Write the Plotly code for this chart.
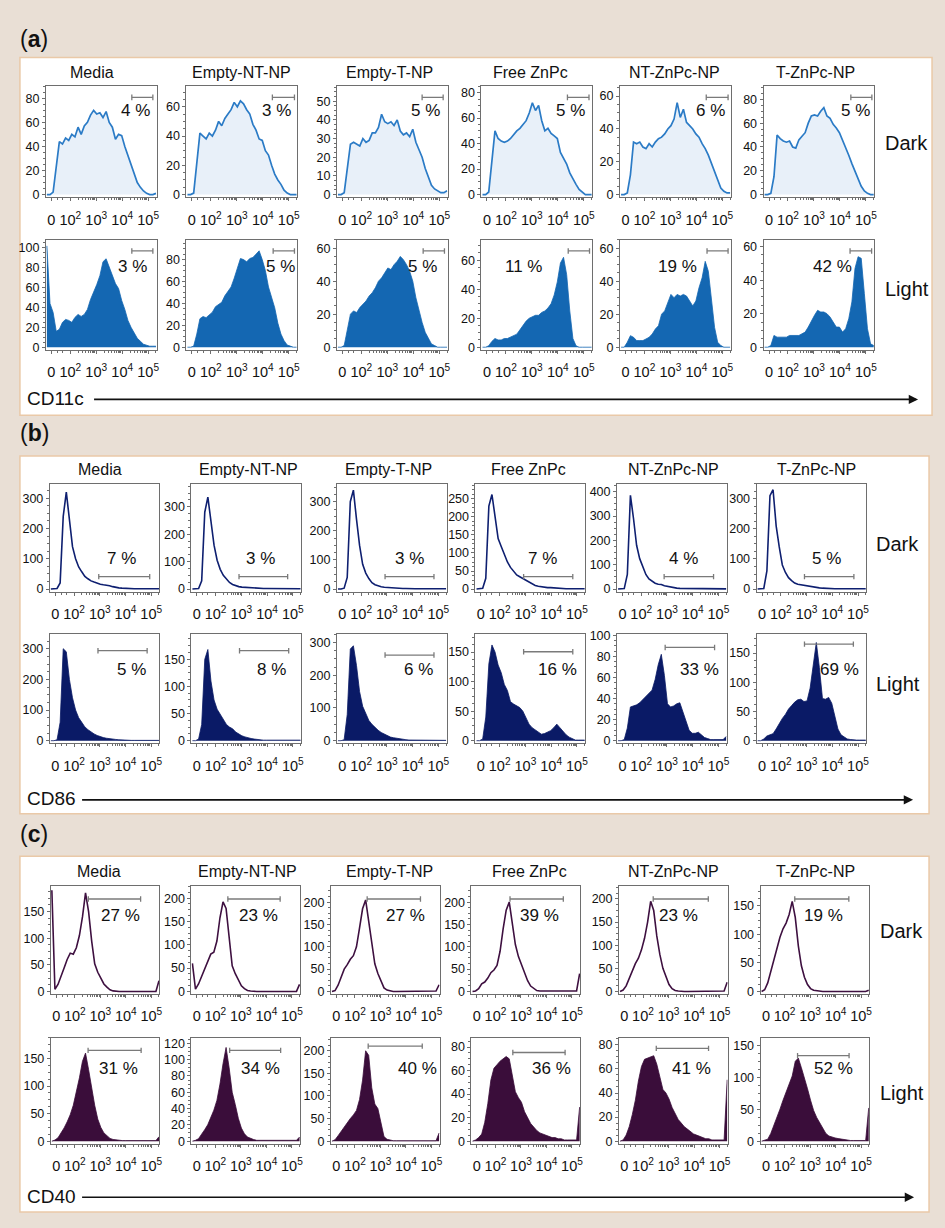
import plotly.graph_objects as go

W, H = 945, 1228
FONT = "Liberation Sans, Arial, sans-serif"

# ---------------- data ----------------
SAMPLES = ["Media", "Empty-NT-NP", "Empty-T-NP", "Free ZnPc", "NT-ZnPc-NP", "T-ZnPc-NP"]
CONDITIONS = ["Dark", "Light"]
MARKERS = ["CD11c", "CD86", "CD40"]
PANEL_TAGS = ["a", "b", "c"]

# display position of each histogram bin (biexponential scale, 10^k -> k)
X_BINS = [1.10, 1.22, 1.34, 1.46, 1.58, 1.70, 1.82, 1.94, 2.06, 2.18, 2.30, 2.42,
          2.54, 2.66, 2.78, 2.90, 3.02, 3.14, 3.26, 3.38, 3.50, 3.62, 3.74, 3.86,
          3.98, 4.10, 4.22, 4.34, 4.46, 4.58, 4.70, 4.82, 4.94, 5.06, 5.18, 5.30]
X_TICK_VALS = [1.27, 2, 3, 4, 5]
X_TICK_TEXT = ["0", "10<sup>2</sup>", "10<sup>3</sup>", "10<sup>4</sup>", "10<sup>5</sup>"]
X_MINOR_VALS = [1.27, 1.5, 1.7, 2.30, 2.48, 2.60, 2.70, 2.78, 2.85, 2.90, 2.95,
                3.30, 3.48, 3.60, 3.70, 3.78, 3.85, 3.90, 3.95,
                4.30, 4.48, 4.60, 4.70, 4.78, 4.85, 4.90, 4.95, 5.30]

CD11C_DARK = [
    [0, 0, 2, 25, 44, 42, 47, 45, 50, 48, 56, 50, 57, 60, 66, 70, 67, 68, 64, 69, 60, 56, 46, 50, 49, 40, 32, 24, 17, 10, 6, 3, 1, 0, 0, 1],
    [0, 0, 1, 20, 42, 40, 38, 42, 40, 44, 50, 47, 52, 55, 58, 63, 60, 64, 62, 58, 55, 48, 44, 38, 37, 30, 27, 20, 14, 10, 7, 3, 1, 0, 0, 0],
    [0, 0, 1, 15, 27, 28, 27, 26, 30, 28, 29, 33, 33, 36, 43, 39, 38, 39, 37, 40, 34, 32, 33, 31, 35, 28, 24, 20, 14, 10, 5, 3, 2, 1, 1, 2],
    [0, 0, 2, 25, 50, 44, 42, 41, 42, 44, 47, 50, 52, 55, 58, 64, 72, 66, 70, 58, 50, 52, 48, 46, 44, 33, 28, 24, 17, 12, 8, 4, 2, 0, 0, 0],
    [0, 0, 1, 12, 32, 31, 32, 29, 28, 31, 29, 32, 34, 35, 37, 40, 42, 46, 56, 47, 52, 44, 42, 40, 37, 35, 31, 28, 24, 19, 14, 8, 4, 2, 1, 1],
    [0, 0, 1, 15, 50, 47, 45, 44, 45, 40, 39, 46, 49, 52, 60, 66, 67, 66, 70, 73, 66, 64, 59, 56, 52, 46, 39, 33, 26, 20, 13, 7, 3, 1, 0, 0],
]
CD11C_LIGHT = [
    [102, 44, 35, 16, 18, 25, 28, 27, 25, 30, 33, 31, 33, 38, 48, 55, 63, 72, 86, 89, 80, 72, 64, 59, 47, 38, 27, 20, 14, 9, 6, 3, 2, 1, 1, 1],
    [0, 0, 1, 12, 26, 28, 27, 30, 32, 37, 39, 41, 47, 51, 55, 63, 72, 81, 80, 78, 81, 82, 85, 88, 80, 70, 55, 45, 36, 22, 12, 6, 2, 1, 0, 0],
    [0, 0, 1, 10, 20, 22, 21, 24, 26, 28, 31, 33, 36, 40, 42, 45, 48, 47, 50, 52, 55, 53, 50, 46, 40, 30, 22, 15, 9, 5, 2, 1, 0, 0, 0, 0],
    [0, 0, 1, 4, 6, 5, 5, 6, 6, 7, 8, 9, 12, 15, 18, 20, 21, 22, 22, 24, 25, 27, 30, 36, 45, 58, 62, 50, 25, 6, 1, 0, 0, 0, 0, 0],
    [0, 0, 3, 7, 6, 4, 4, 4, 5, 6, 8, 11, 13, 20, 22, 27, 32, 30, 32, 31, 32, 31, 28, 25, 28, 36, 42, 52, 46, 28, 12, 3, 1, 0, 0, 0],
    [0, 0, 1, 7, 6, 6, 6, 6, 7, 7, 7, 7, 8, 9, 12, 16, 19, 22, 21, 21, 20, 18, 15, 12, 12, 9, 11, 17, 27, 47, 54, 53, 32, 11, 2, 1],
]
CD86_DARK = [
    [0, 0, 2, 20, 240, 320, 225, 140, 100, 73, 57, 42, 34, 27, 23, 19, 16, 14, 13, 11, 8, 5, 4, 3, 2, 2, 2, 1, 1, 1, 1, 1, 1, 1, 1, 1],
    [0, 0, 2, 30, 280, 335, 250, 160, 105, 72, 50, 35, 24, 17, 12, 9, 7, 6, 5, 4, 3, 3, 2, 2, 2, 2, 2, 1, 1, 1, 1, 1, 1, 1, 1, 1],
    [0, 0, 3, 40, 300, 340, 240, 150, 85, 55, 36, 22, 15, 11, 8, 6, 5, 4, 3, 3, 2, 2, 2, 1, 1, 1, 1, 1, 1, 1, 1, 1, 1, 1, 1, 1],
    [0, 0, 2, 30, 230, 262, 205, 140, 118, 95, 75, 60, 48, 39, 34, 29, 23, 18, 14, 10, 8, 6, 5, 4, 4, 3, 3, 2, 2, 1, 1, 1, 1, 1, 1, 1],
    [0, 0, 2, 60, 385, 290, 180, 125, 90, 60, 42, 32, 24, 20, 19, 14, 11, 8, 6, 4, 3, 3, 2, 2, 2, 1, 1, 1, 1, 1, 1, 1, 1, 1, 1, 1],
    [0, 0, 2, 60, 310, 330, 210, 140, 80, 55, 38, 28, 20, 16, 14, 12, 11, 9, 7, 5, 4, 3, 2, 2, 1, 1, 1, 1, 1, 1, 1, 1, 1, 1, 1, 1],
]
CD86_LIGHT = [
    [0, 0, 3, 60, 300, 290, 200, 140, 100, 75, 60, 45, 36, 28, 22, 17, 13, 10, 8, 6, 5, 4, 3, 2, 2, 1, 1, 1, 1, 1, 1, 1, 1, 1, 1, 1],
    [0, 0, 3, 30, 150, 168, 110, 75, 58, 48, 40, 30, 25, 22, 16, 12, 9, 7, 5, 4, 3, 2, 2, 1, 1, 1, 1, 1, 1, 1, 1, 1, 1, 1, 1, 1],
    [0, 0, 3, 80, 280, 290, 230, 150, 105, 82, 62, 50, 40, 32, 25, 20, 15, 11, 9, 7, 5, 4, 3, 2, 2, 1, 1, 1, 1, 1, 1, 1, 1, 1, 1, 1],
    [0, 0, 3, 40, 130, 162, 150, 128, 115, 95, 85, 66, 62, 59, 56, 50, 40, 28, 22, 18, 14, 11, 12, 14, 17, 22, 28, 22, 16, 10, 6, 3, 1, 1, 1, 1],
    [0, 0, 1, 12, 32, 33, 34, 36, 39, 41, 45, 48, 58, 72, 82, 62, 35, 32, 33, 35, 36, 28, 18, 10, 7, 7, 8, 5, 3, 2, 1, 1, 1, 1, 1, 4],
    [0, 0, 3, 8, 10, 12, 20, 30, 38, 45, 54, 60, 66, 70, 71, 67, 68, 90, 130, 168, 125, 72, 71, 74, 64, 42, 20, 10, 6, 3, 2, 1, 1, 1, 1, 1],
]
CD40_DARK = [
    [190, 4, 13, 27, 44, 60, 72, 70, 82, 105, 140, 185, 150, 95, 52, 36, 25, 14, 8, 3, 1, 0, 0, 0, 0, 0, 0, 0, 0, 0, 0, 0, 0, 0, 0, 20],
    [60, 5, 16, 32, 50, 64, 80, 84, 108, 158, 192, 178, 110, 55, 38, 25, 12, 6, 2, 1, 0, 0, 0, 0, 0, 0, 0, 0, 0, 0, 0, 0, 0, 0, 0, 15],
    [0, 2, 14, 32, 50, 60, 72, 80, 100, 142, 185, 205, 160, 110, 62, 40, 22, 8, 3, 1, 0, 0, 0, 0, 0, 0, 0, 0, 0, 0, 0, 0, 0, 0, 1, 15],
    [0, 1, 6, 17, 21, 30, 42, 48, 58, 90, 140, 182, 200, 150, 105, 78, 60, 40, 24, 12, 6, 2, 1, 1, 1, 1, 1, 1, 1, 1, 1, 1, 1, 1, 1, 40],
    [0, 3, 12, 28, 45, 60, 72, 90, 115, 150, 195, 175, 120, 80, 50, 30, 15, 6, 2, 1, 0, 0, 0, 0, 0, 0, 0, 0, 0, 0, 0, 0, 0, 0, 1, 20],
    [0, 3, 15, 35, 60, 80, 95, 110, 120, 135, 158, 130, 80, 45, 25, 12, 5, 2, 1, 0, 0, 0, 0, 0, 0, 0, 0, 0, 0, 0, 0, 0, 0, 0, 0, 2],
]
CD40_LIGHT = [
    [0, 2, 6, 14, 24, 35, 48, 65, 88, 115, 145, 160, 130, 95, 65, 40, 25, 15, 9, 5, 3, 2, 1, 1, 1, 1, 1, 1, 1, 1, 1, 1, 1, 1, 1, 8],
    [0, 1, 3, 8, 14, 20, 28, 38, 50, 70, 95, 115, 90, 60, 45, 28, 16, 9, 5, 3, 2, 1, 1, 1, 1, 1, 1, 1, 1, 1, 1, 1, 1, 1, 1, 5],
    [0, 3, 12, 22, 30, 40, 50, 58, 68, 92, 135, 200, 190, 118, 82, 72, 42, 10, 4, 2, 1, 1, 1, 1, 1, 1, 1, 1, 1, 1, 1, 1, 1, 1, 1, 18],
    [0, 1, 3, 6, 16, 32, 52, 62, 65, 68, 70, 72, 70, 55, 42, 37, 33, 25, 20, 15, 12, 9, 7, 6, 5, 4, 3, 3, 2, 2, 1, 1, 1, 1, 1, 29],
    [0, 1, 5, 12, 22, 34, 50, 62, 68, 69, 70, 71, 64, 52, 43, 40, 35, 28, 23, 18, 15, 12, 10, 8, 6, 5, 4, 3, 2, 2, 1, 1, 1, 1, 1, 51],
    [0, 1, 3, 12, 24, 38, 50, 64, 76, 88, 102, 125, 130, 115, 100, 82, 64, 48, 37, 28, 20, 12, 8, 6, 5, 4, 3, 2, 2, 1, 1, 1, 1, 1, 1, 52],
]

CD11C_DARK_PCT = [4, 3, 5, 5, 6, 5]
CD11C_LIGHT_PCT = [3, 5, 5, 11, 19, 42]
CD86_DARK_PCT = [7, 3, 3, 7, 4, 5]
CD86_LIGHT_PCT = [5, 8, 6, 16, 33, 69]
CD40_DARK_PCT = [27, 23, 27, 39, 23, 19]
CD40_LIGHT_PCT = [31, 34, 40, 36, 41, 52]

# gate limits (display units)
CD11C_DARK_GATE = [[4.37, 5.18], [4.37, 5.22], [4.34, 5.15], [4.37, 5.2], [4.38, 5.22], [4.42, 5.23]]
CD11C_LIGHT_GATE = [[4.37, 5.18], [4.4, 5.22], [4.38, 5.2], [4.4, 5.22], [4.41, 5.22], [4.39, 5.22]]
CD86_DARK_GATE = [[2.96, 4.94], [2.91, 4.8], [2.93, 4.83], [2.93, 4.84], [2.89, 4.81], [2.92, 4.84]]
CD86_LIGHT_GATE = [[2.93, 4.84], [2.93, 4.84], [2.93, 4.83], [2.93, 4.84], [2.93, 4.85], [2.92, 4.82]]
CD40_DARK_GATE = [[2.53, 4.58], [2.49, 4.54], [2.48, 4.57], [2.57, 4.66], [2.4, 4.56], [2.4, 4.52]]
CD40_LIGHT_GATE = [[2.52, 4.6], [2.56, 4.56], [2.52, 4.64], [2.68, 4.73], [2.52, 4.57], [2.51, 4.53]]

# y axis: top of range and tick step
CD11C_DARK_YTOP = [90, 74, 58, 85, 66, 91]
CD11C_DARK_YSTEP = [20, 20, 10, 20, 20, 20]
CD11C_LIGHT_YTOP = [108, 98, 65, 74, 65, 64]
CD11C_LIGHT_YSTEP = [20, 20, 20, 20, 20, 20]
CD86_DARK_YTOP = [348, 384, 362, 292, 433, 350]
CD86_DARK_YSTEP = [100, 100, 100, 50, 100, 100]
CD86_LIGHT_YTOP = [347, 196, 325, 180, 101, 182]
CD86_LIGHT_YSTEP = [100, 50, 100, 50, 20, 50]
CD40_DARK_YTOP = [198, 226, 236, 236, 228, 185]
CD40_DARK_YSTEP = [50, 50, 50, 50, 50, 50]
CD40_LIGHT_YTOP = [188, 127, 229, 88, 86, 162]
CD40_LIGHT_YSTEP = [50, 20, 50, 20, 20, 50]

# ---------------- layout (pixels) ----------------
BG = "#e9dfd5"
BORDER = "#eac9a8"
PANEL_BOX = [(20, 52, 935, 413), (20, 454, 932, 815), (20, 858, 932, 1217)]
PANEL_TAG_Y = [33, 431, 835]
TITLE_Y = [67, 468, 873]
TITLE_X = [[92, 242, 391, 532, 677, 818], [100, 249, 390, 530, 676, 819], [99, 248, 391, 531, 676, 818]]
FRAME_LEFT = [[46, 187, 338, 483, 622, 766], [50, 192, 338, 477, 619, 759], [51, 192, 332, 473, 621, 763]]
FRAME_W = [111, 110, 109]
ROW_Y = [[(81, 193), (236, 347)], [(482, 591), (634, 744)], [(888, 997), (1041, 1148)]]
COND_X = [886, 877, 881]
COND_Y = [[138, 286], [543, 684], [933, 1097]]
ARROW = [(25, 397, 94, 921), (25, 801, 82, 916), (25, 1202, 82, 917)]

GATE_Y = [[[0.9] * 6, [0.9] * 6],
          [[0.14] * 6, [0.85, 0.85, 0.81, 0.84, 0.88, 0.91]],
          [[0.88] * 6, [0.88, 0.88, 0.92, 0.86, 0.9, 0.83]]]
LABEL_X = [[[4.52, 4.51, 4.47, 4.47, 4.55, 4.59], [4.41, 4.69, 4.36, 2.7, 3.29, 3.71]],
           [[3.86, 3.76, 3.87, 3.68, 3.64, 3.76], [4.25, 4.18, 4.21, 4.25, 4.25, 4.3]],
           [[3.78, 3.71, 4.0, 3.73, 3.4, 3.52], [3.71, 3.75, 4.45, 4.18, 3.9, 3.92]]]
LABEL_Y = [[0.78, 0.76], [0.31, 0.68], [0.73, 0.71]]

STYLE = [
    [dict(line="#2b7bc6", fill="#e8f0f9", lw=1.7), dict(line="#1467b2", fill="#1467b2", lw=0.8)],
    [dict(line="#0e1f70", fill=None, lw=1.6), dict(line="#0a1a66", fill="#0a1a66", lw=0.8)],
    [dict(line="#3e1040", fill=None, lw=1.6), dict(line="#3a0d3a", fill="#3a0d3a", lw=0.8)],
]

DATA = [
    [(CD11C_DARK, CD11C_DARK_PCT, CD11C_DARK_GATE, CD11C_DARK_YTOP, CD11C_DARK_YSTEP),
     (CD11C_LIGHT, CD11C_LIGHT_PCT, CD11C_LIGHT_GATE, CD11C_LIGHT_YTOP, CD11C_LIGHT_YSTEP)],
    [(CD86_DARK, CD86_DARK_PCT, CD86_DARK_GATE, CD86_DARK_YTOP, CD86_DARK_YSTEP),
     (CD86_LIGHT, CD86_LIGHT_PCT, CD86_LIGHT_GATE, CD86_LIGHT_YTOP, CD86_LIGHT_YSTEP)],
    [(CD40_DARK, CD40_DARK_PCT, CD40_DARK_GATE, CD40_DARK_YTOP, CD40_DARK_YSTEP),
     (CD40_LIGHT, CD40_LIGHT_PCT, CD40_LIGHT_GATE, CD40_LIGHT_YTOP, CD40_LIGHT_YSTEP)],
]


def fx(px):
    return px / W


def fy(py):
    return 1 - py / H


fig = go.Figure()
layout = dict(width=W, height=H, margin=dict(l=0, r=0, t=0, b=0),
              paper_bgcolor=BG, plot_bgcolor="rgba(0,0,0,0)", showlegend=False,
              font=dict(family=FONT, color="#111"))
shapes, annotations = [], []
AX_COL = "#6e6e6e"

n = 0
for p in range(3):
    bx0, by0, bx1, by1 = PANEL_BOX[p]
    shapes.append(dict(type="rect", xref="paper", yref="paper", x0=fx(bx0), x1=fx(bx1),
                       y0=fy(by1), y1=fy(by0), fillcolor="white",
                       line=dict(color=BORDER, width=1.5), layer="below"))
    annotations.append(dict(xref="paper", yref="paper", x=fx(18), y=fy(PANEL_TAG_Y[p]),
                            xanchor="left", yanchor="middle", showarrow=False,
                            text="(<b>%s</b>)" % PANEL_TAGS[p], font=dict(size=23, color="#111")))
    for c in range(6):
        annotations.append(dict(xref="paper", yref="paper", x=fx(TITLE_X[p][c]), y=fy(TITLE_Y[p]),
                                xanchor="center", yanchor="middle", showarrow=False,
                                text=SAMPLES[c], font=dict(size=16, color="#111")))
    for r in range(2):
        curves, pcts, gates, ytops, ysteps = DATA[p][r]
        st = STYLE[p][r]
        top_px, bot_px = ROW_Y[p][r]
        annotations.append(dict(xref="paper", yref="paper", x=fx(COND_X[p]), y=fy(COND_Y[p][r]),
                                xanchor="left", yanchor="middle", showarrow=False,
                                text=CONDITIONS[r], font=dict(size=20, color="#111")))
        for c in range(6):
            n += 1
            xid = "x" if n == 1 else "x%d" % n
            yid = "y" if n == 1 else "y%d" % n
            left = FRAME_LEFT[p][c]
            fig.add_trace(go.Scatter(
                x=X_BINS, y=curves[c], xaxis=xid, yaxis=yid, mode="lines",
                line=dict(color=st["line"], width=st["lw"]),
                fill="tozeroy" if st["fill"] else None,
                fillcolor=st["fill"], hoverinfo="skip"))
            ytop = ytops[c]
            layout["xaxis" if n == 1 else "xaxis%d" % n] = dict(
                domain=[fx(left), fx(left + FRAME_W[p])], anchor=yid,
                range=[1.06, 5.32], tickmode="array", tickvals=X_TICK_VALS, ticktext=X_TICK_TEXT,
                ticks="outside", ticklen=3, tickcolor=AX_COL, tickangle=0,
                ticklabelstandoff=6,
                showline=True, mirror=True, linecolor=AX_COL, linewidth=1,
                showgrid=False, zeroline=False, tickfont=dict(size=14.5, color="#111"),
                minor=dict(tickmode="array", tickvals=X_MINOR_VALS, ticks="outside",
                           ticklen=2, tickcolor=AX_COL, showgrid=False),
                fixedrange=True)
            layout["yaxis" if n == 1 else "yaxis%d" % n] = dict(
                domain=[fy(bot_px), fy(top_px)], anchor=xid,
                range=[-0.025 * ytop, ytop], tickmode="linear", tick0=0, dtick=ysteps[c],
                ticks="outside", ticklen=3, tickcolor=AX_COL,
                showline=True, mirror=True, linecolor=AX_COL, linewidth=1,
                showgrid=False, zeroline=False, tickfont=dict(size=12.5, color="#111"),
                minor=dict(tick0=0, dtick=ysteps[c] / 4, ticks="outside", ticklen=2,
                           tickcolor=AX_COL, showgrid=False),
                fixedrange=True)
            # gate
            g0, g1 = gates[c]
            gy = GATE_Y[p][r][c]
            ydom = yid + " domain"
            gl = dict(color="#7a7a7a", width=1.3)
            shapes.append(dict(type="line", xref=xid, yref=ydom, x0=g0, x1=g1, y0=gy, y1=gy, line=gl))
            for gx in (g0, g1):
                shapes.append(dict(type="line", xref=xid, yref=ydom, x0=gx, x1=gx,
                                   y0=gy - 0.025, y1=gy + 0.025, line=gl))
            annotations.append(dict(xref=xid, yref=ydom, x=LABEL_X[p][r][c], y=LABEL_Y[p][r],
                                    xanchor="center", yanchor="middle", showarrow=False,
                                    text="%d %%" % pcts[c], font=dict(size=17, color="#111")))
    # marker axis arrow
    tx, ay_px, x0a, x1a = ARROW[p]
    annotations.append(dict(xref="paper", yref="paper", x=fx(tx), y=fy(ay_px - 1),
                            xanchor="left", yanchor="middle", showarrow=False,
                            text=MARKERS[p], font=dict(size=19, color="#111")))
    annotations.append(dict(xref="paper", yref="paper", axref="pixel", ayref="pixel",
                            x=fx(x1a), y=fy(ay_px), ax=-(x1a - x0a), ay=0, text=" ",
                            showarrow=True, arrowhead=2, arrowsize=1.1, arrowwidth=1.7,
                            arrowcolor="#111"))

layout["shapes"] = shapes
layout["annotations"] = annotations
fig.update_layout(**layout)
fig.write_html("out.html")
